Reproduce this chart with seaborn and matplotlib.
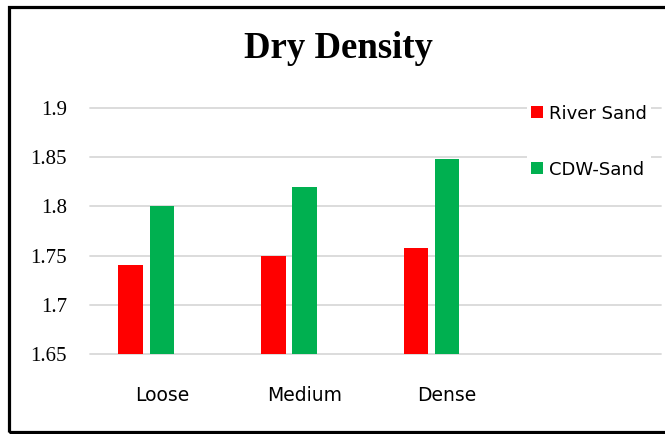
import matplotlib
matplotlib.use("Agg")
import matplotlib.pyplot as plt
import matplotlib.patches as mpatches
import pandas as pd
import seaborn as sns

# Dry density per compaction state
categories = ["Loose", "Medium", "Dense"]
river_sand = [1.74, 1.75, 1.758]
cdw_sand = [1.80, 1.82, 1.848]
series_names = ["River Sand", "CDW-Sand"]
series_colors = ["#FF0000", "#00B050"]
y_ticks = [1.65, 1.70, 1.75, 1.80, 1.85, 1.90]
y_tick_labels = ["1.65", "1.7", "1.75", "1.8", "1.85", "1.9"]

df = pd.DataFrame({
    "state": categories * 2,
    "series": [series_names[0]] * 3 + [series_names[1]] * 3,
    "density": river_sand + cdw_sand,
})

sns.set_theme(style="white")
plt.rcParams["text.color"] = "black"
plt.rcParams["xtick.color"] = "black"
plt.rcParams["ytick.color"] = "black"
W, H = 665, 434
fig = plt.figure(figsize=(W / 100, H / 100), dpi=100)
ax = fig.add_axes([90.5 / W, 1 - 354 / H, (661 - 90.5) / W, (354 - 108) / H])

# a third, empty slot keeps the two bars left of each category centre
hue_levels = series_names + ["spare"]
sns.barplot(data=df, x="state", y="density", hue="series",
            hue_order=hue_levels, order=categories,
            palette=series_colors + ["#FFFFFF"],
            width=0.656, gap=0.214, legend=False, ax=ax,
            edgecolor="none", saturation=1)

ax.set_xlim(-0.5, 3.5)
ax.set_ylim(1.65, 1.90)
ax.set_yticks(y_ticks)
ax.set_yticklabels(y_tick_labels, fontfamily="Liberation Serif", fontsize=15,
                   color="black")
ax.set_xticks(range(len(categories)))
ax.set_xticklabels(categories, fontfamily="DejaVu Sans", fontsize=13.5,
                   color="black")
ax.tick_params(axis="y", length=0, pad=17)
ax.tick_params(axis="x", length=0, pad=23)
ax.set_xlabel("")
ax.set_ylabel("")
for s in ax.spines.values():
    s.set_visible(False)
ax.set_axisbelow(True)
ax.yaxis.grid(True, color="#D9D9D9", linewidth=1.3)
for gl in ax.get_ygridlines():
    gl.set_clip_on(False)

handles = [mpatches.Patch(facecolor=c, edgecolor="none") for c in series_colors]
leg = ax.legend(handles, series_names, loc="upper left",
                bbox_to_anchor=(527 / W, 1 - 101 / H), bbox_transform=fig.transFigure,
                frameon=True, framealpha=1, edgecolor="none", facecolor="white",
                fancybox=False, borderpad=0.2, borderaxespad=0,
                handlelength=0.67, handleheight=0.67, handletextpad=0.35,
                labelspacing=2.1,
                prop={"family": "DejaVu Sans", "size": 13})
for t in leg.get_texts():
    t.set_color("black")

fig.text(338 / W, 1 - 49 / H, "Dry Density", ha="center", va="center",
         fontfamily="Liberation Serif", fontweight="bold", fontsize=26.5,
         color="black")

# outer frame around the chart area
frame = mpatches.Rectangle((8.5 / W, 1 - 431.5 / H), (720 - 8.5) / W, (431.5 - 6.5) / H,
                           transform=fig.transFigure, fill=False,
                           edgecolor="black", linewidth=2.3, clip_on=False)
fig.patches.append(frame)

fig.savefig("out.png", dpi=100, facecolor="white")
